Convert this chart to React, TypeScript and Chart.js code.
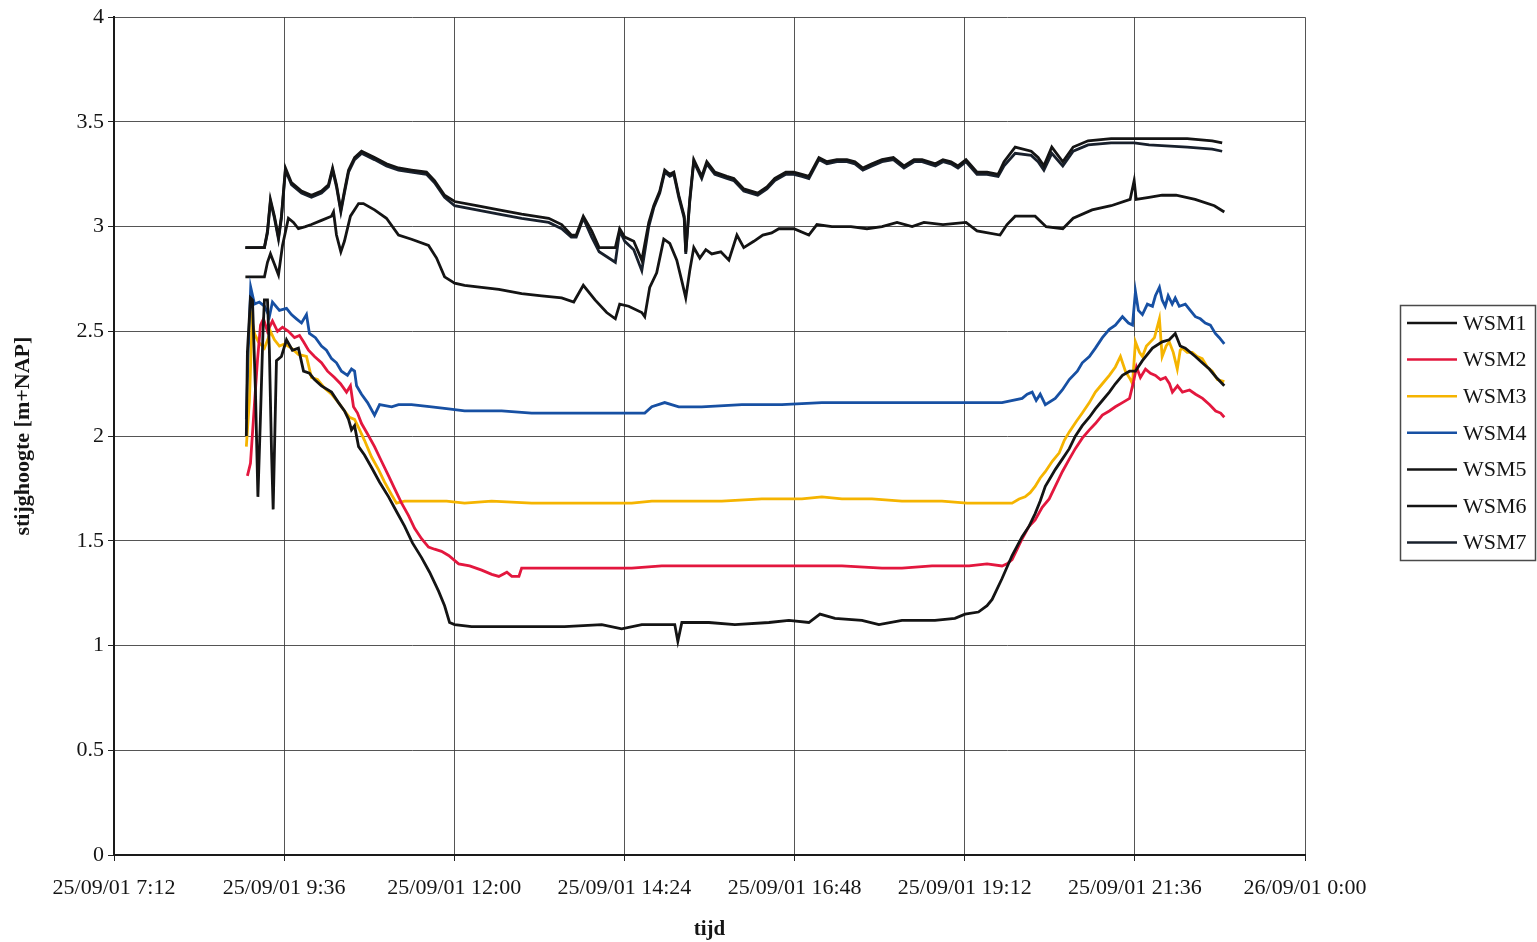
import React, { useEffect, useRef } from 'react';
import { Chart, registerables } from 'chart.js';

Chart.register(...registerables);

// x values are minutes after 25/09/01 0:00
const X_MIN = 432; // 25/09/01 7:12
const X_MAX = 1440; // 26/09/01 0:00
const X_STEP = 144;
const Y_MIN = 0;
const Y_MAX = 4;
const Y_STEP = 0.5;

const X_TITLE = 'tijd';
const Y_TITLE = 'stijghoogte [m+NAP]';

const SERIES_NAMES = ['WSM1', 'WSM2', 'WSM3', 'WSM4', 'WSM5', 'WSM6', 'WSM7'];
const SERIES_COLORS = ['#141414', '#e3173e', '#f5b400', '#1750a3', '#141414', '#141414', '#18202c'];

const WSM1_T = [544, 544.9, 547.5, 549.2, 551.7, 553.8, 555.9, 558, 559.3, 561.9,
  563.5, 565.3, 566.7, 568.2, 569.5, 573.7, 578, 583, 588.1, 592.4,
  597.4, 601.7, 607.6, 616.1, 622, 627.1, 630.5, 633, 635.6, 639,
  644, 650, 656.8, 664.4, 671.1, 677.9, 684.6, 692.3, 699.1, 706.7,
  711.8, 716, 720.3, 734.6, 757.7, 785.5, 813.4, 844.8, 861.7, 878.7,
  895.6, 906.6, 909.2, 912.6, 935.5, 957.5, 986.3, 1003.2, 1020.1, 1029.5,
  1042.2, 1065, 1079.4, 1098.9, 1126.8, 1143.7, 1152.3, 1163.6, 1170.9, 1175.2,
  1183.6, 1192.1, 1200.6, 1206.5, 1211.6, 1215.9, 1220.2, 1224.4, 1228.6, 1234.6,
  1240.5, 1245.6, 1251.5, 1257.5, 1262.6, 1268.5, 1274.4, 1279.5, 1285.5, 1291.5,
  1296.5, 1302.4, 1310.9, 1319.1, 1325.1, 1330.2, 1334.4, 1338.7, 1347.2, 1353,
  1359, 1365, 1371.7];
const WSM1_V = [2.00, 2.40, 2.66, 2.65, 2.22, 1.71, 2.08, 2.48, 2.65, 2.65,
  2.41, 1.93, 1.65, 2.03, 2.36, 2.38, 2.46, 2.41, 2.42, 2.31,
  2.30, 2.27, 2.24, 2.21, 2.16, 2.12, 2.08, 2.03, 2.05, 1.95,
  1.91, 1.85, 1.78, 1.71, 1.64, 1.57, 1.49, 1.42, 1.35, 1.26,
  1.19, 1.11, 1.10, 1.09, 1.09, 1.09, 1.09, 1.10, 1.08, 1.10,
  1.10, 1.10, 1.02, 1.11, 1.11, 1.10, 1.11, 1.12, 1.11, 1.15,
  1.13, 1.12, 1.10, 1.12, 1.12, 1.13, 1.15, 1.16, 1.19, 1.22,
  1.32, 1.43, 1.52, 1.57, 1.63, 1.69, 1.76, 1.80, 1.84, 1.89,
  1.94, 2.00, 2.05, 2.09, 2.13, 2.17, 2.21, 2.25, 2.29, 2.31,
  2.31, 2.36, 2.42, 2.45, 2.46, 2.49, 2.43, 2.42, 2.38, 2.35,
  2.32, 2.28, 2.24];

const WSM2_T = [544.9, 547.5, 550, 553.4, 556, 558.5, 561.9, 566.1, 570.4, 574.6,
  579.6, 584.8, 589, 592.4, 596.6, 601.7, 607.6, 612.7, 618.6, 623.7,
  628.8, 632.1, 634.7, 638.1, 641.5, 646.6, 652.5, 658.4, 664.4, 669.4,
  675.4, 681.3, 686.4, 692.3, 698.2, 703.3, 709.2, 715.2, 723.7, 733,
  743.2, 751.7, 757.7, 764.5, 768.7, 774.7, 777, 793.9, 813.4, 836.3,
  870.2, 895.6, 912.6, 946.4, 980.3, 1014.2, 1048.1, 1082, 1098.9, 1124.3,
  1141.3, 1155.7, 1170.9, 1183.6, 1187.8, 1192.1, 1196.4, 1200.6, 1206.5, 1211.6,
  1217.6, 1223.5, 1228.6, 1234.6, 1240.5, 1245.6, 1251.5, 1257.5, 1262.6, 1268.5,
  1274.4, 1279.5, 1285.5, 1291.5, 1294.9, 1297.4, 1300.7, 1305, 1309.2, 1313.4,
  1317.7, 1321.9, 1325.3, 1327.8, 1332.1, 1336.3, 1342.3, 1347.4, 1353.3, 1359.3,
  1364.4, 1368.6, 1371.7];
const WSM2_V = [1.81, 1.87, 2.08, 2.36, 2.53, 2.56, 2.50, 2.55, 2.50, 2.52,
  2.50, 2.47, 2.48, 2.45, 2.41, 2.38, 2.35, 2.31, 2.28, 2.25,
  2.21, 2.24, 2.14, 2.11, 2.06, 2.01, 1.95, 1.88, 1.81, 1.75,
  1.68, 1.62, 1.56, 1.51, 1.47, 1.46, 1.45, 1.43, 1.39, 1.38,
  1.36, 1.34, 1.33, 1.35, 1.33, 1.33, 1.37, 1.37, 1.37, 1.37,
  1.37, 1.38, 1.38, 1.38, 1.38, 1.38, 1.38, 1.37, 1.37, 1.38,
  1.38, 1.38, 1.39, 1.38, 1.39, 1.41, 1.46, 1.51, 1.57, 1.60,
  1.66, 1.70, 1.76, 1.83, 1.89, 1.94, 1.99, 2.03, 2.06, 2.10,
  2.12, 2.14, 2.16, 2.18, 2.26, 2.33, 2.28, 2.32, 2.30, 2.29,
  2.27, 2.28, 2.25, 2.21, 2.24, 2.21, 2.22, 2.20, 2.18, 2.15,
  2.12, 2.11, 2.09];

const WSM3_T = [544, 546.6, 548.9, 550.9, 554.2, 559.3, 562.7, 564.4, 567.8, 572,
  576.2, 582.2, 588.1, 594.9, 599.1, 604.2, 610.1, 616.1, 622, 627.1,
  631.3, 635.6, 639, 644, 650, 655.9, 661, 666.9, 671.1, 677.9,
  692.3, 713.5, 728.7, 751.6, 785.5, 810.9, 842.3, 857.5, 870.2, 887.2,
  910, 946.4, 980.3, 1014.2, 1031.1, 1048.1, 1073.5, 1098.9, 1132.8, 1154,
  1175.2, 1192.1, 1198, 1203.1, 1207.4, 1211.6, 1215.9, 1220.2, 1226.1, 1232,
  1236.3, 1240.5, 1246.4, 1251.5, 1257.5, 1262.6, 1268.5, 1274.4, 1279.5, 1283.8,
  1288, 1292.3, 1294, 1296.5, 1299.9, 1302.4, 1305.8, 1309.2, 1312.6, 1316.8,
  1319.1, 1322.5, 1325.1, 1328.5, 1331.9, 1334.4, 1336.1, 1340.3, 1344.6, 1348.8,
  1353, 1357.3, 1361.5, 1365.8, 1371.7];
const WSM3_V = [1.95, 2.17, 2.55, 2.49, 2.45, 2.42, 2.47, 2.50, 2.46, 2.43,
  2.44, 2.42, 2.39, 2.38, 2.28, 2.27, 2.23, 2.20, 2.16, 2.12,
  2.09, 2.08, 2.04, 1.98, 1.90, 1.84, 1.78, 1.72, 1.68, 1.69,
  1.69, 1.69, 1.68, 1.69, 1.68, 1.68, 1.68, 1.68, 1.68, 1.69,
  1.69, 1.69, 1.70, 1.70, 1.71, 1.70, 1.70, 1.69, 1.69, 1.68,
  1.68, 1.68, 1.70, 1.71, 1.73, 1.76, 1.80, 1.83, 1.88, 1.92,
  1.98, 2.02, 2.07, 2.11, 2.16, 2.21, 2.25, 2.29, 2.33, 2.38,
  2.31, 2.27, 2.25, 2.45, 2.40, 2.38, 2.43, 2.45, 2.47, 2.56,
  2.38, 2.43, 2.45, 2.40, 2.32, 2.41, 2.42, 2.40, 2.40, 2.38,
  2.37, 2.33, 2.31, 2.27, 2.26];

const WSM4_T = [544, 545.7, 547.7, 550.9, 555, 559.3, 563.5, 566.1, 572, 578,
  582.2, 586.4, 590.7, 594.9, 597.4, 602.5, 607.6, 611.8, 616.1, 620.3,
  624.5, 629.6, 633, 635.6, 637.3, 641.5, 646.6, 652.5, 656.8, 667,
  672.8, 683.8, 700.8, 715.2, 728.7, 760.1, 785.5, 819.4, 842.3, 866,
  881.2, 887.2, 898.1, 910, 929.4, 963.4, 997.2, 1031.1, 1065, 1098.9,
  1154, 1183.6, 1200.6, 1204.9, 1209.1, 1212.5, 1215.9, 1220.2, 1228.6, 1234.6,
  1240.5, 1247.3, 1251.5, 1257.5, 1262.6, 1268.5, 1274.4, 1279.5, 1285.5, 1290.6,
  1294, 1296.5, 1299, 1302.4, 1306.6, 1310.9, 1313.4, 1316.8, 1319.1, 1321.7,
  1324.2, 1327.6, 1330.2, 1333.6, 1338.7, 1342.9, 1347.2, 1351.4, 1355.6, 1359.9,
  1364.1, 1367.5, 1371.7];
const WSM4_V = [2.08, 2.41, 2.71, 2.63, 2.64, 2.62, 2.57, 2.64, 2.60, 2.61,
  2.58, 2.56, 2.54, 2.58, 2.49, 2.47, 2.43, 2.41, 2.37, 2.35,
  2.31, 2.29, 2.32, 2.31, 2.24, 2.20, 2.16, 2.10, 2.15, 2.14,
  2.15, 2.15, 2.14, 2.13, 2.12, 2.12, 2.11, 2.11, 2.11, 2.11,
  2.11, 2.14, 2.16, 2.14, 2.14, 2.15, 2.15, 2.16, 2.16, 2.16,
  2.16, 2.16, 2.18, 2.20, 2.21, 2.17, 2.20, 2.15, 2.18, 2.22,
  2.27, 2.31, 2.35, 2.38, 2.42, 2.47, 2.51, 2.53, 2.57, 2.54,
  2.53, 2.69, 2.60, 2.58, 2.63, 2.62, 2.67, 2.71, 2.65, 2.62,
  2.67, 2.63, 2.66, 2.62, 2.63, 2.60, 2.57, 2.56, 2.54, 2.53,
  2.49, 2.47, 2.44];

const WSM5_T = [543.2, 559.3, 561.9, 564.4, 567.8, 571.2, 574.6, 579.6, 583.9, 588.1,
  594, 599.1, 607.6, 616.1, 617.8, 620.3, 624, 627, 632.1, 639,
  643.1, 652.5, 662.6, 672.8, 683.8, 698.2, 705, 711.8, 720.3, 728.7,
  743.1, 757.7, 777, 794, 810.9, 821.1, 829.2, 839.1, 849, 856.3,
  860, 867.6, 878.7, 881.2, 885.4, 891.3, 897.3, 902.4, 908.3, 912.6,
  915.9, 919.3, 922.7, 927.8, 932.9, 937.9, 945.6, 952.4, 959.2, 965,
  973.5, 981.1, 988.6, 994.7, 1007.4, 1020.1, 1026.9, 1039.6, 1055.7, 1069.3,
  1082, 1094.7, 1107.5, 1117.5, 1133.6, 1153.1, 1162.4, 1181.9, 1187.8, 1194.7,
  1211.6, 1220.9, 1235, 1243.8, 1259.8, 1275.9, 1292, 1295.4, 1297.1, 1308,
  1319.1, 1330.9, 1347, 1363.3, 1371.7];
const WSM5_V = [2.76, 2.76, 2.83, 2.87, 2.82, 2.77, 2.91, 3.04, 3.02, 2.99,
  3.00, 3.01, 3.03, 3.05, 3.07, 2.96, 2.88, 2.93, 3.05, 3.11,
  3.11, 3.08, 3.04, 2.96, 2.94, 2.91, 2.85, 2.76, 2.73, 2.72,
  2.71, 2.70, 2.68, 2.67, 2.66, 2.64, 2.72, 2.65, 2.59, 2.56,
  2.63, 2.62, 2.59, 2.57, 2.71, 2.78, 2.94, 2.92, 2.84, 2.74,
  2.66, 2.79, 2.90, 2.85, 2.89, 2.87, 2.88, 2.84, 2.96, 2.90,
  2.93, 2.96, 2.97, 2.99, 2.99, 2.96, 3.01, 3.00, 3.00, 2.99,
  3.00, 3.02, 3.00, 3.02, 3.01, 3.02, 2.98, 2.96, 3.01, 3.05,
  3.05, 3.00, 2.99, 3.04, 3.08, 3.10, 3.13, 3.22, 3.13, 3.14,
  3.15, 3.15, 3.13, 3.10, 3.07];

// WSM6 and WSM7 share their time stamps
const WSM67_T = [543.2, 559.3, 561.9, 564.4, 567.8, 571.2, 573.7, 577.1, 582.2, 590.7,
  599.1, 607.6, 613.5, 617, 620.3, 624, 627, 630.5, 635.6, 641.5,
  652.5, 662.6, 672.8, 683.8, 696.5, 703.3, 711.8, 720.3, 738.9, 757.7,
  777, 799.9, 810.9, 819, 823.2, 829.2, 836.3, 842.6, 856.3, 860,
  864.3, 871.9, 878.7, 884.6, 888.8, 893.9, 898.1, 902.4, 905.8, 910,
  914.6, 915.9, 919.3, 922.7, 929.4, 933.7, 940.5, 950.7, 956.6, 965,
  976.8, 984.6, 991.3, 1000.6, 1007.4, 1014.2, 1020.1, 1028.6, 1035.4, 1043.8,
  1052.3, 1059.1, 1065.8, 1073.5, 1082, 1091.6, 1100.6, 1109.1, 1115.9, 1127.2,
  1133.6, 1140.4, 1146.3, 1153.1, 1162.4, 1170.9, 1180.3, 1185.3, 1194.7, 1208.3,
  1214.1, 1219, 1225.7, 1235, 1243.8, 1256.4, 1275.9, 1295.4, 1308, 1340.3,
  1361.5, 1369.9];
const WSM6_V = [2.90, 2.90, 2.98, 3.13, 3.05, 2.95, 3.05, 3.28, 3.21, 3.17,
  3.15, 3.17, 3.20, 3.28, 3.20, 3.08, 3.17, 3.27, 3.33, 3.36,
  3.33, 3.30, 3.28, 3.27, 3.26, 3.22, 3.15, 3.12, 3.10, 3.08,
  3.06, 3.04, 3.01, 2.96, 2.96, 3.05, 2.98, 2.90, 2.90, 2.99,
  2.95, 2.93, 2.84, 3.02, 3.10, 3.17, 3.27, 3.25, 3.26, 3.15,
  3.05, 2.88, 3.13, 3.32, 3.24, 3.31, 3.26, 3.24, 3.23, 3.18,
  3.16, 3.19, 3.23, 3.26, 3.26, 3.25, 3.24, 3.33, 3.31, 3.32,
  3.32, 3.31, 3.28, 3.30, 3.32, 3.33, 3.29, 3.32, 3.32, 3.30,
  3.32, 3.31, 3.29, 3.32, 3.26, 3.26, 3.25, 3.31, 3.38, 3.36,
  3.33, 3.29, 3.38, 3.31, 3.38, 3.41, 3.42, 3.42, 3.42, 3.42,
  3.41, 3.40];
const WSM7_V = [2.90, 2.90, 2.97, 3.12, 3.04, 2.94, 3.04, 3.27, 3.20, 3.16,
  3.14, 3.16, 3.19, 3.27, 3.19, 3.07, 3.16, 3.26, 3.32, 3.35,
  3.32, 3.29, 3.27, 3.26, 3.25, 3.21, 3.14, 3.10, 3.08, 3.06,
  3.04, 3.02, 2.99, 2.95, 2.95, 3.04, 2.95, 2.88, 2.83, 2.98,
  2.93, 2.89, 2.79, 3.00, 3.09, 3.16, 3.26, 3.24, 3.25, 3.14,
  3.04, 2.87, 3.12, 3.31, 3.23, 3.30, 3.25, 3.23, 3.22, 3.17,
  3.15, 3.18, 3.22, 3.25, 3.25, 3.24, 3.23, 3.32, 3.30, 3.31,
  3.31, 3.30, 3.27, 3.29, 3.31, 3.32, 3.28, 3.31, 3.31, 3.29,
  3.31, 3.30, 3.28, 3.31, 3.25, 3.25, 3.24, 3.29, 3.35, 3.34,
  3.31, 3.27, 3.35, 3.29, 3.36, 3.39, 3.40, 3.40, 3.39, 3.38,
  3.37, 3.36];

const SERIES_T = [WSM1_T, WSM2_T, WSM3_T, WSM4_T, WSM5_T, WSM67_T, WSM67_T];
const SERIES_V = [WSM1_V, WSM2_V, WSM3_V, WSM4_V, WSM5_V, WSM6_V, WSM7_V];

const FONT_FAMILY = '"Liberation Serif", "Times New Roman", serif';

function formatTime(value: number): string {
  const day = value >= 1440 ? 26 : 25;
  const mins = Math.round(value) % 1440;
  const h = Math.floor(mins / 60);
  const m = mins % 60;
  return `${day}/09/01 ${h}:${m < 10 ? '0' + m : m}`;
}

const boxLegend = {
  id: 'boxLegend',
  afterDraw(chart: any) {
    const ctx = chart.ctx;
    ctx.save();
    ctx.strokeStyle = '#4a4a4a';
    ctx.lineWidth = 1.5;
    ctx.strokeRect(1400.5, 305.5, 135, 255);
    ctx.font = `22px ${FONT_FAMILY}`;
    ctx.textBaseline = 'middle';
    ctx.textAlign = 'left';
    chart.data.datasets.forEach((ds: any, i: number) => {
      const y = 323 + i * 36.6;
      ctx.strokeStyle = ds.borderColor;
      ctx.lineWidth = 2.5;
      ctx.beginPath();
      ctx.moveTo(1407, y);
      ctx.lineTo(1457, y);
      ctx.stroke();
      ctx.fillStyle = '#151515';
      ctx.fillText(ds.label, 1463, y + 1);
    });
    ctx.restore();
  },
};

export default function App() {
  const canvasRef = useRef<HTMLCanvasElement | null>(null);

  useEffect(() => {
    if (!canvasRef.current) return;
    const datasets = SERIES_NAMES.map((name, i) => ({
      label: name,
      data: SERIES_T[i].map((t, j) => ({ x: t, y: SERIES_V[i][j] })),
      borderColor: SERIES_COLORS[i],
      backgroundColor: SERIES_COLORS[i],
      borderWidth: 2.8,
      pointRadius: 0,
      tension: 0,
      fill: false,
    }));

    const chart = new Chart(canvasRef.current, {
      type: 'line',
      data: { datasets },
      plugins: [boxLegend],
      options: {
        animation: false,
        responsive: false,
        parsing: false as any,
        layout: { padding: { left: 0, top: 17, right: 232, bottom: 0 } },
        plugins: {
          legend: { display: false },
          tooltip: { enabled: false },
        },
        scales: {
          x: {
            type: 'linear',
            min: X_MIN,
            max: X_MAX,
            afterFit: (s: any) => { s.height = 87; },
            ticks: {
              stepSize: X_STEP,
              autoSkip: false,
              maxRotation: 0,
              minRotation: 0,
              padding: 14,
              color: '#151515',
              font: { family: FONT_FAMILY, size: 22 },
              callback: (v: any) => formatTime(Number(v)),
            },
            grid: {
              color: 'rgba(55,55,55,0.85)',
              lineWidth: 1,
              tickLength: 6,
              tickColor: '#222',
            },
            border: { display: true, color: '#1a1a1a', width: 2 },
            title: {
              display: true,
              text: X_TITLE,
              color: '#151515',
              font: { family: FONT_FAMILY, size: 21, weight: 'bold' },
              padding: { top: 0, bottom: 0 },
            },
          },
          y: {
            type: 'linear',
            min: Y_MIN,
            max: Y_MAX,
            afterFit: (s: any) => { s.width = 114; },
            ticks: {
              stepSize: Y_STEP,
              padding: 4,
              color: '#151515',
              font: { family: FONT_FAMILY, size: 22 },
              callback: (v: any) => String(Number(v)),
            },
            grid: {
              color: 'rgba(55,55,55,0.85)',
              lineWidth: 1,
              tickLength: 6,
              tickColor: '#222',
            },
            border: { display: true, color: '#1a1a1a', width: 2 },
            title: {
              display: true,
              text: Y_TITLE,
              color: '#151515',
              font: { family: FONT_FAMILY, size: 22, weight: 'bold' },
              padding: { top: 10, bottom: 0 },
            },
          },
        },
      } as any,
    });
    return () => chart.destroy();
  }, []);

  return (
    <div style={{ position: 'absolute', left: 0, top: 0, width: 1537, height: 942, background: '#fff' }}>
      <canvas ref={canvasRef} width={1537} height={942} style={{ display: 'block' }} />
    </div>
  );
}
